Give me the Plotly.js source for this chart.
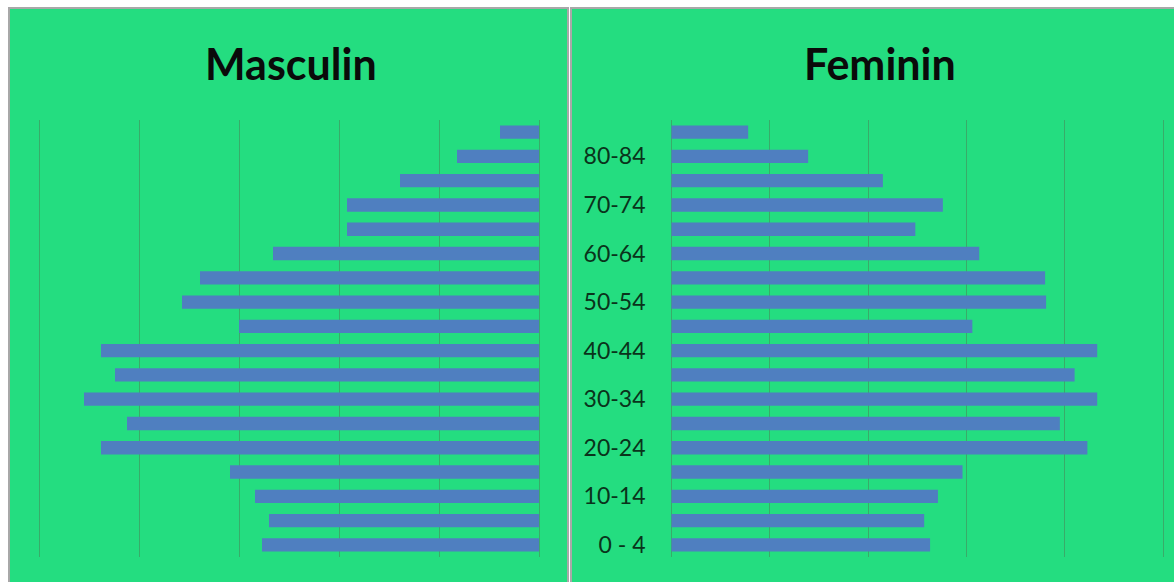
<!DOCTYPE html>
<html>
<head>
<meta charset="utf-8">
<script src="https://cdn.plot.ly/plotly-3.0.1.min.js"></script>
<style>
  html, body { margin: 0; padding: 0; background: #fff; }
  #pyramid { width: 1174px; height: 582px; }
</style>
</head>
<body>
<div id="pyramid"></div>
<script>
// age groups, bottom to top
var ageGroups = ["0 - 4", "5-9", "10-14", "15-19", "20-24", "25-29", "30-34", "35-39", "40-44",
                 "45-49", "50-54", "55-59", "60-64", "65-69", "70-74", "75-79", "80-84", "85+"];
var masculinValues = [2.77, 2.70, 2.84, 3.09, 4.38, 4.12, 4.55, 4.24, 4.38,
                      3.00, 3.57, 3.39, 2.66, 1.92, 1.92, 1.39, 0.82, 0.39];
var femininValues  = [2.63, 2.57, 2.71, 2.96, 4.23, 3.95, 4.33, 4.10, 4.33,
                      3.06, 3.81, 3.80, 3.13, 2.48, 2.76, 2.15, 1.39, 0.78];
var gridValues = [0, 1, 2, 3, 4, 5];
var shownLabels = ageGroups.filter(function (a, i) { return i % 2 === 0; });

var W = 1174, H = 582;
function px(x) { return x / W; }
function py(y) { return 1 - y / H; }

var green = "rgb(36,221,128)";
var barColor = "rgb(79,127,192)";
var gridColor = "rgba(70,140,90,0.6)";

var data = [
  { type: "bar", orientation: "h", y: ageGroups, x: masculinValues,
    xaxis: "x", yaxis: "y", marker: { color: barColor } },
  { type: "bar", orientation: "h", y: ageGroups, x: femininValues,
    xaxis: "x2", yaxis: "y2", marker: { color: barColor } }
];

var layout = {
  width: W, height: H,
  margin: { l: 0, r: 0, t: 0, b: 0 },
  paper_bgcolor: "#ffffff",
  plot_bgcolor: "rgba(0,0,0,0)",
  showlegend: false,
  bargap: 0.45,
  font: { family: "Lato, 'Open Sans', sans-serif" },
  xaxis: {
    domain: [px(33), px(540)], range: [5.06, -0.01], tickvals: gridValues,
    showgrid: true, gridcolor: gridColor, gridwidth: 1,
    zeroline: true, zerolinecolor: gridColor, zerolinewidth: 1,
    showticklabels: false, ticks: "", showline: false
  },
  yaxis: {
    anchor: "x", domain: [py(557), py(120)],
    type: "category", showticklabels: false, showgrid: false, ticks: "", zeroline: false
  },
  xaxis2: {
    domain: [px(670.5), px(1169)], range: [-0.01, 5.06], tickvals: gridValues, anchor: "y2",
    showgrid: true, gridcolor: gridColor, gridwidth: 1,
    zeroline: true, zerolinecolor: gridColor, zerolinewidth: 1,
    showticklabels: false, ticks: "", showline: false
  },
  yaxis2: {
    anchor: "x2", domain: [py(557), py(120)],
    type: "category", tickmode: "array", tickvals: shownLabels, ticktext: shownLabels,
    showgrid: false, zeroline: false, ticks: "", ticklabelstandoff: 24,
    tickfont: { size: 23, color: "#0a331b", family: "Lato, 'Open Sans', sans-serif" }
  },
  shapes: [
    { type: "rect", xref: "paper", yref: "paper", layer: "below",
      x0: px(9), x1: px(568), y0: py(584), y1: py(8),
      fillcolor: green, line: { color: "#a8a8a8", width: 2 } },
    { type: "rect", xref: "paper", yref: "paper", layer: "below",
      x0: px(571), x1: px(1176), y0: py(584), y1: py(8),
      fillcolor: green, line: { color: "#a8a8a8", width: 2 } }
  ],
  annotations: [
    { text: "<b>Masculin</b>", xref: "paper", yref: "paper", x: px(291), y: py(63),
      xanchor: "center", yanchor: "middle",
      showarrow: false, font: { size: 43, color: "#0a0a0a" } },
    { text: "<b>Feminin</b>", xref: "paper", yref: "paper", x: px(880), y: py(63),
      xanchor: "center", yanchor: "middle",
      showarrow: false, font: { size: 43, color: "#0a0a0a" } }
  ]
};

Plotly.newPlot("pyramid", data, layout, { displayModeBar: false, staticPlot: true });
</script>
</body>
</html>
